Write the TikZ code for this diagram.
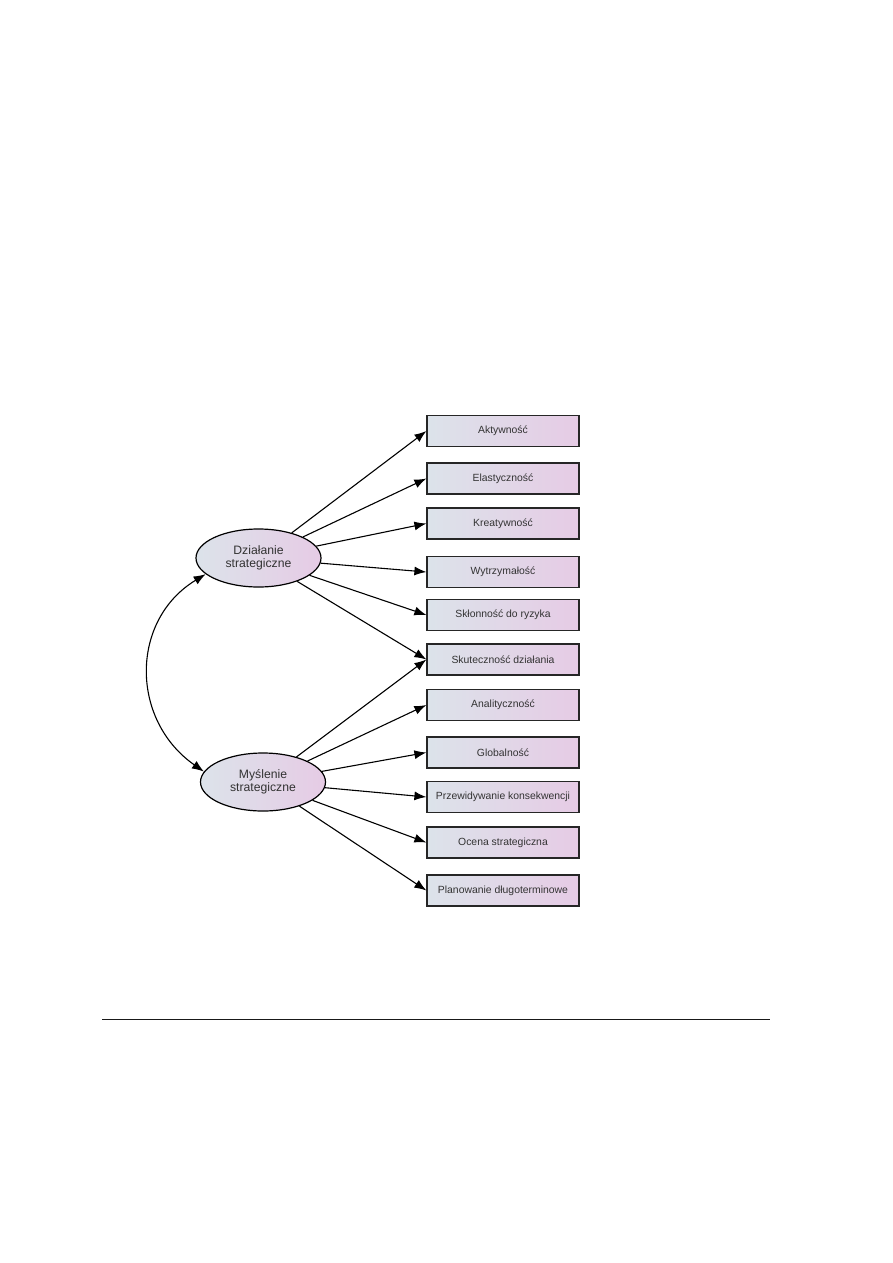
\documentclass[tikz,border=0pt]{standalone}
\usepackage{fontspec}
\setmainfont{Liberation Sans}
\usetikzlibrary{arrows.meta,shapes.geometric}
\definecolor{gl}{HTML}{DCE3EA}
\definecolor{gr}{HTML}{E6CBE5}
\tikzset{
  box/.style={draw=black!85,line width=1.2pt,minimum width=152pt,minimum height=31pt,inner sep=0pt,
    left color=gl,right color=gr,font=\fontsize{10.4}{12}\selectfont,text=black!80},
  latent/.style={ellipse,draw=black,line width=1.2pt,minimum width=125pt,minimum height=58pt,inner sep=0pt,
    left color=gl,right color=gr,font=\fontsize{12.2}{13.5}\selectfont,align=center,text=black!80},
  arr/.style={-{Latex[length=12pt,width=9pt]},line width=1.1pt}
}
\begin{document}
\begin{tikzpicture}[x=1pt,y=-1pt]
\useasboundingbox (0,0) rectangle (893,1263);
\node[latent] (d) at (258.5,558) {Działanie\\strategiczne};
\node[latent] (m) at (263,782) {Myślenie\\strategiczne};
\node[box] (b1) at (503,431) {Aktywność};
\node[box] (b2) at (503,478.5) {Elastyczność};
\node[box] (b3) at (503,523.5) {Kreatywność};
\node[box] (b4) at (503,572) {Wytrzymałość};
\node[box] (b5) at (503,615) {Skłonność do ryzyka};
\node[box] (b6) at (503,659.5) {Skuteczność działania};
\node[box] (b7) at (503,705) {Analityczność};
\node[box] (b8) at (503,752.5) {Globalność};
\node[box] (b9) at (503,797) {Przewidywanie konsekwencji};
\node[box] (b10) at (503,842.5) {Ocena strategiczna};
\node[box] (b11) at (503,890.5) {Planowanie długoterminowe};
\foreach \b in {b1,b2,b3,b4,b5,b6} \draw[arr] (d) -- (\b.west);
\foreach \b in {b6,b7,b8,b9,b10,b11} \draw[arr] (m) -- (\b.west);
\draw[arr,{Latex[length=12pt,width=9pt]}-{Latex[length=12pt,width=9pt]}] (d.197) .. controls (130,620) and (130,720) .. (m.170);
\coordinate (l1) at (102,1019);
\coordinate (l2) at (770,1019);
\draw[line width=0.9pt,black!90] (l1) -- (l2);
\end{tikzpicture}
\end{document}
